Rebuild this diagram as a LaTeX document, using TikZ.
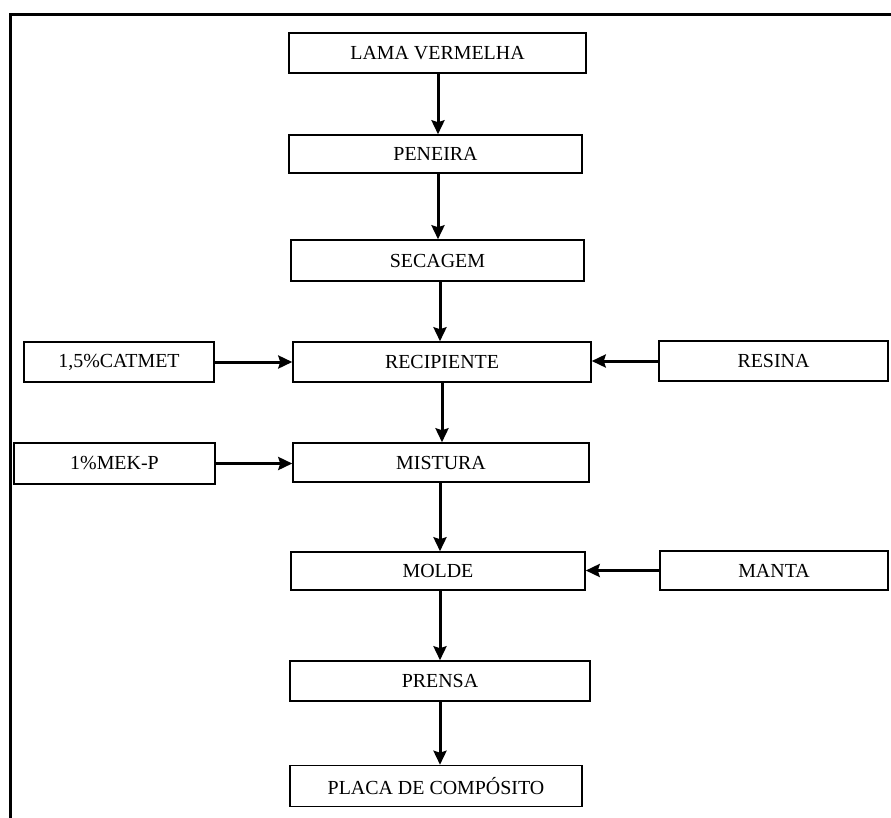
\documentclass[tikz,border=0pt]{standalone}
\usepackage{fontspec}
\setmainfont{Liberation Serif}
\usepackage{tikz}
\usetikzlibrary{arrows.meta,calc,positioning}

\tikzset{
  etapa/.style={draw,line width=1.5bp,inner sep=0pt,font=\fontsize{20}{22}\selectfont},
  fluxo/.style={line width=3bp,-{Stealth[length=14bp,width=13bp,inset=2bp]}}
}

\begin{document}
\begin{tikzpicture}[x=1bp,y=-1bp]
  \useasboundingbox (0,0) rectangle (891,818);
  % moldura
  \draw[line width=3bp] (10,818) -- (10,14.5) -- (891,14.5);
  % coluna central
  \foreach \n/\x/\y/\w/\h/\t in {lama/437.5/53/297/40/{LAMA VERMELHA},peneira/435.5/154/293/38/PENEIRA,secagem/437.5/260.5/293/41/SECAGEM,recip/442/362/298/40/RECIPIENTE,mistura/441/462.5/296/39/MISTURA,molde/438/571/294/38/MOLDE,prensa/440/681/300/40/PRENSA,placa/436/786/292/41/{PLACA DE COMPÓSITO}}
    \node[etapa,minimum width=\w bp,minimum height=\h bp] (\n) at (\x,\y) {\t};
  % entradas laterais
  \node[etapa,minimum width=190bp,minimum height=40bp] (catmet) at (119,362) {1,5\%CATMET};
  \node[etapa,minimum width=229bp,minimum height=40bp] (resina) at (773.5,361) {RESINA};
  \node[etapa,minimum width=201bp,minimum height=41bp] (mekp) at (114.5,463.5) {1\%MEK-P};
  \node[etapa,minimum width=228bp,minimum height=39bp] (manta) at (774,570.5) {MANTA};
  % setas
  \foreach \a/\b/\c in {lama/peneira/438,peneira/secagem/438,secagem/recip/440,recip/mistura/442,mistura/molde/440,molde/prensa/440,prensa/placa/440}
    \draw[fluxo] (\c,0 |- \a.south) -- (\c,0 |- \b.north);
  \draw[fluxo] (catmet.east) -- (catmet.east -| recip.west);
  \draw[fluxo] (resina.west) -- (resina.west -| recip.east);
  \draw[fluxo] (mekp.east) -- (mekp.east -| mistura.west);
  \draw[fluxo] (manta.west) -- (manta.west -| molde.east);
\end{tikzpicture}
\end{document}
